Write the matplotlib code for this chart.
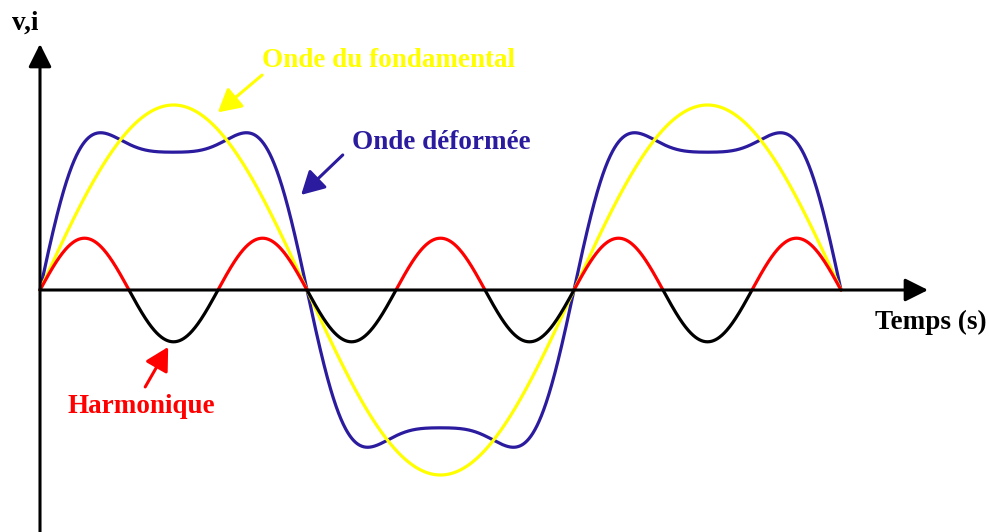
import numpy as np
import matplotlib
matplotlib.use("Agg")
import matplotlib.pyplot as plt

# Waveform parameters (amplitude 1 = fundamental peak)
n_periods = 1.5
fundamental_amp = 1.0
harmonic_order = 3
harmonic_amp = 0.28
# distorted wave: harmonic orders and amplitudes
distorted_orders = [1, 3, 5]
distorted_amps = [0.97, 0.285, 0.06]

# Colours
yellow = "#FFFF00"
blue = "#2B1B9E"
red = "#FF0000"

t = np.linspace(0, n_periods, 2000)
w = 2 * np.pi * t
fundamental = fundamental_amp * np.sin(w)
harmonic = harmonic_amp * np.sin(harmonic_order * w)
distorted = sum(a * np.sin(k * w) for k, a in zip(distorted_orders, distorted_amps))

# red where the harmonic is positive, black where negative
harm_pos = np.where(harmonic >= 0, harmonic, np.nan)
harm_neg = np.where(harmonic <= 0, harmonic, np.nan)

plt.rcParams["font.family"] = ["Liberation Serif", "DejaVu Serif"]

fig = plt.figure(figsize=(9.89, 5.32), dpi=100)
ax = fig.add_axes([0, 0, 1, 1])
ax.set_xlim(-40 / 534, (989 - 40) / 534)
ax.set_ylim(-(532 - 290) / 185, 290 / 185)
ax.axis("off")

# axes arrows
axis_arrow = dict(arrowstyle="-|>,head_length=1.0,head_width=0.5", color="black",
                  lw=2.2, shrinkA=0, shrinkB=0, mutation_scale=14)
ax.annotate("", xy=(0, 1.33), xytext=(0, -1.31), arrowprops=axis_arrow)
ax.annotate("", xy=(1.663, 0), xytext=(0, 0), arrowprops=axis_arrow)

# curves
lw = 2.3
ax.plot(t, distorted, color=blue, lw=lw, solid_capstyle="round")
ax.plot(t, fundamental, color=yellow, lw=lw, solid_capstyle="round")
ax.plot(t, harm_neg, color="black", lw=lw, solid_capstyle="round")
ax.plot(t, harm_pos, color=red, lw=lw, solid_capstyle="round")

fs = 19.5
lbl_arrow = dict(arrowstyle="-|>,head_length=1.0,head_width=0.55", lw=2.2,
                 shrinkA=0, shrinkB=0, mutation_scale=14)

ax.text(-0.053, 1.44, "v,i", fontsize=fs, fontweight="bold", ha="left", va="center")
ax.text(1.564, -0.173, "Temps (s)", fontsize=fs, fontweight="bold", ha="left", va="center")

ax.text(0.416, 1.238, "Onde du fondamental", fontsize=fs, fontweight="bold",
        color=yellow, ha="left", va="center")
ax.annotate("", xy=(0.333, 0.96), xytext=(0.416, 1.162),
            arrowprops=dict(lbl_arrow, color=yellow))

ax.text(0.584, 0.795, "Onde déformée", fontsize=fs, fontweight="bold",
        color=blue, ha="left", va="center")
ax.annotate("", xy=(0.489, 0.514), xytext=(0.567, 0.730),
            arrowprops=dict(lbl_arrow, color=blue))

ax.text(0.052, -0.632, "Harmonique", fontsize=fs, fontweight="bold",
        color=red, ha="left", va="center")
ax.annotate("", xy=(0.240, -0.308), xytext=(0.197, -0.524),
            arrowprops=dict(lbl_arrow, color=red))

fig.savefig("out.png", dpi=100)
